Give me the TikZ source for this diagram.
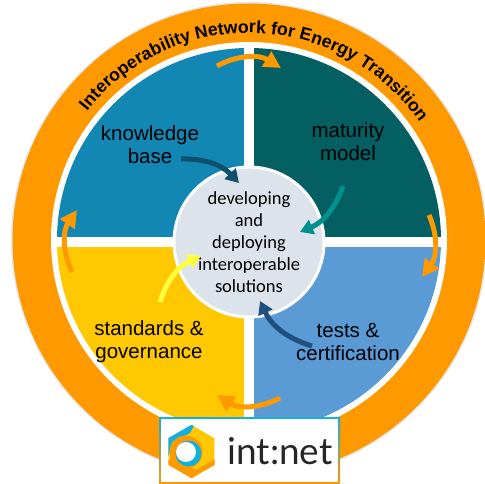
\documentclass[tikz,border=0pt]{standalone}
\usepackage{fontspec}
\setmainfont{Liberation Sans}
\newfontfamily\hubfont{Carlito}
\newfontfamily\logofont{Lato}
\usetikzlibrary{arrows.meta,decorations.text,shapes.geometric}
\definecolor{ringorange}{HTML}{FF9900}
\definecolor{quadblue}{HTML}{1287B4}
\definecolor{quadteal}{HTML}{035F62}
\definecolor{quadyellow}{HTML}{FFC800}
\definecolor{quadsky}{HTML}{5B9BD5}
\definecolor{hubgrey}{HTML}{DCE3EA}
\definecolor{logocyan}{HTML}{12B0DC}
\definecolor{feeddeep}{HTML}{0E4F6E}
\definecolor{feedteal}{HTML}{00908E}
\definecolor{feedyellow}{HTML}{FFFF40}
\definecolor{feednavy}{HTML}{1F5080}
\begin{document}
\begin{tikzpicture}[x=1pt,y=1pt,
    quadrant/.style ={font=\fontsize{20.5}{23}\selectfont, align=center, text=black},
    cycle/.style ={-{Triangle[length=17pt,width=17pt]}, line width=5pt, ringorange, bend left=30},
    feed/.style ={-{Triangle[length=13pt,width=15pt]}, line width=5pt, bend left=24}]
   \useasboundingbox (0,-484) rectangle (485,0);
   \coordinate (O) at (249,-240);

   \fill[black!10] (O) circle (238);
   \fill[ringorange] (O) circle (236.5);
   \fill[white] (O) circle (198);
   \fill[quadblue] (O) -- ++(90:192) arc[start angle=90,end angle=180,radius=192] -- cycle;
   \fill[quadteal] (O) -- ++(0:192) arc[start angle=0,end angle=90,radius=192] -- cycle;
   \fill[quadyellow] (O) -- ++(180:192) arc[start angle=180,end angle=270,radius=192] -- cycle;
   \fill[quadsky] (O) -- ++(270:192) arc[start angle=270,end angle=360,radius=192] -- cycle;
   \draw[white,line width=10.5pt] (249,-44) -- (249,-436);
   \draw[white,line width=10.5pt] (53,-242) -- (445,-242);

   % title on the ring
   \path[decorate,decoration={text along path,text align=center,
     text={|\fontsize{17.7}{20}\selectfont\bfseries|Interoperability Network for Energy Transition}}]
     (O) ++(146:207) arc[start angle=146,end angle=30,radius=207];

   \node[circle, draw=white, line width=3pt, fill=hubgrey, minimum size=150pt, inner sep=0pt] (H) at (249,-242) {};
   \node[align=center, font=\hubfont\fontsize{18.5}{22}\selectfont] (Htext) at (249,-242) {developing\\and\\deploying\\interoperable\\solutions};

   \node[quadrant] (K) at (150,-145) {knowledge\\base};
   \node[quadrant] (M) at (348,-142) {maturity\\model};
   \node[quadrant] (S) at (149,-342) {standards \&\\governance};
   \node[quadrant] (T) at (348,-342) {tests \&\\certification};

   % cycle arrows
   \coordinate (A1) at (217,-66);
   \coordinate (A2) at (281,-68);
   \coordinate (B1) at (429,-215);
   \coordinate (B2) at (422,-277);
   \coordinate (C1) at (280,-398);
   \coordinate (C2) at (217,-395);
   \coordinate (D1) at (72,-272);
   \coordinate (D2) at (77,-210);
   \draw[cycle] (A1) to (A2);
   \draw[cycle] (B1) to (B2);
   \draw[cycle] (C1) to (C2);
   \draw[cycle] (D1) to (D2);

   % arrows into the hub
   \coordinate (K1) at (181,-159);
   \coordinate (K2) at (239,-183);
   \coordinate (M1) at (343,-186);
   \coordinate (M2) at (300,-232);
   \coordinate (S1) at (160,-302);
   \coordinate (S2) at (201,-256);
   \coordinate (T1) at (312,-346);
   \coordinate (T2) at (260,-301);
   \draw[feed,feeddeep] (K1) to (K2);
   \draw[feed,feedteal] (M1) to (M2);
   \draw[feed,feedyellow] (S1) to (S2);
   \draw[feed,feednavy] (T1) to (T2);

   % logo box
   \shade[top color=logocyan, middle color=yellow!85!white, bottom color=ringorange] (159,-484) rectangle (340,-417);
   \node[rectangle, fill=white, minimum width=177pt, minimum height=63pt, inner sep=0pt] (L) at (249.5,-450.5) {};
   \node[regular polygon, regular polygon sides=6, shape border rotate=30, minimum size=53pt, inner sep=0pt, fill=quadyellow] (P) at (191.5,-451.5) {};
   \begin{scope}
     \clip (P.corner 1) -- (P.corner 2) -- (P.corner 3) -- (P.corner 4) -- (P.corner 5) -- (P.corner 6) -- cycle;
     \fill[logocyan] (160,-420) -- (197,-420) -- (190,-433) -- (172,-442) -- (165,-470) -- (160,-470) -- cycle;
     \fill[ringorange] (165,-462) -- (172,-458) -- (196,-470) -- (220,-456) -- (220,-485) -- (165,-485) -- cycle;
   \end{scope}
   \node[circle, fill=ringorange, minimum size=33pt, inner sep=0pt] (R) at (186,-452) {};
   \node[circle, fill=logocyan, minimum size=26pt, inner sep=0pt] (C) at (188.5,-453.5) {};
   \node[circle, fill=white, minimum size=20pt, inner sep=0pt] (W) at (186,-452) {};
   \node[font=\logofont\fontsize{37}{40}\selectfont, inner sep=0pt, text=black!85] (N) at (280,-451) {int:net};
\end{tikzpicture}
\end{document}
